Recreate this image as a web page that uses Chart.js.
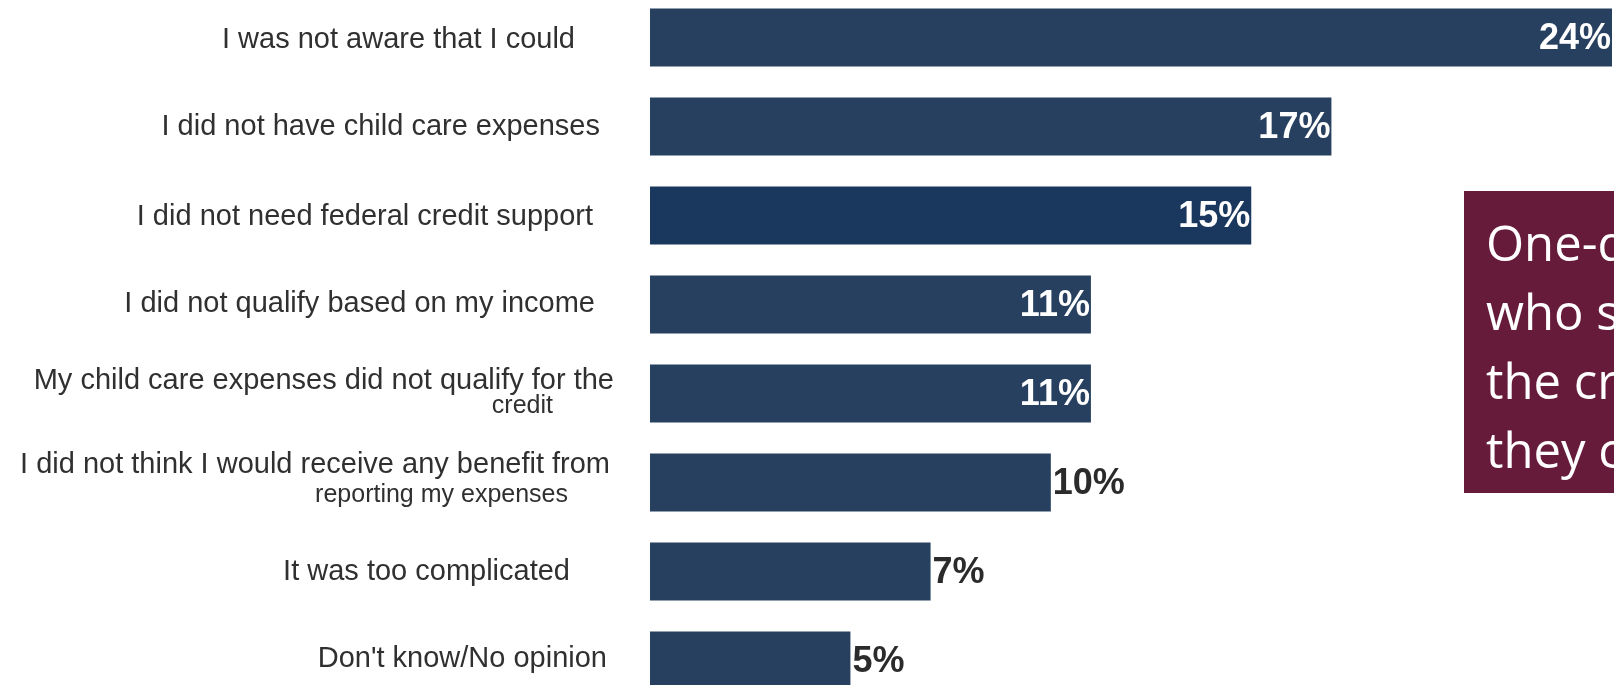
<!DOCTYPE html>
<html>
<head>
<meta charset="utf-8">
<script src="https://cdn.jsdelivr.net/npm/chart.js@4"></script>
<style>
  html, body { margin: 0; padding: 0; background: #fff; overflow: hidden; }
  #wrap { position: absolute; left: 0; top: -7px; width: 1614px; height: 712px; }
  #note {
    position: absolute; left: 1464px; top: 191px; width: 150px; height: 302px;
    background: #661b3a; color: #fff; overflow: hidden; white-space: nowrap;
    font-family: "Open Sans", sans-serif; font-size: 49px; line-height: 69px;
    padding: 17px 0 0 22px; box-sizing: border-box;
  }
</style>
</head>
<body>
<div id="wrap"><canvas id="grafico" width="1614" height="712"></canvas></div>
<div id="note">One-quarter of parents<br>who skipped claiming<br>the credit were not aware<br>they could claim it.</div>
<script>
// Dados ======================================================================

const labels = [
  "I was not aware that I could",
  "I did not have child care expenses",
  "I did not need federal credit support",
  "I did not qualify based on my income",
  ["My child care expenses did not qualify for the", "credit"],
  ["I did not think I would receive any benefit from", "reporting my expenses"],
  "It was too complicated",
  "Don't know/No opinion",
];
const values = [24, 17, 15, 11, 11, 10, 7, 5];

// Estilo / posicao dos rotulos ================================================

const barColors = ["#27405f", "#27405f", "#1a375e", "#27405f", "#27405f", "#27405f", "#27405f", "#27405f"];
// right edge of each text line, and its shift from the bar centre
const lineRight = [[575], [600], [593], [595], [614, 553], [610, 568], [570], [607]];
const lineShift = [[2], [0], [1], [-1], [-13, 13], [-18, 13], [0], [-2]];

const categoryLabels = {
  id: "categoryLabels",
  afterDraw(chart) {
    const ctx = chart.ctx;
    const y = chart.scales.y;
    ctx.save();
    ctx.fillStyle = "#303030";
    ctx.textAlign = "right";
    ctx.textBaseline = "middle";
    labels.forEach((lab, i) => {
      const lines = Array.isArray(lab) ? lab : [lab];
      const cy = y.getPixelForValue(i);
      lines.forEach((t, j) => {
        ctx.font = (j === 0 ? "29px" : "25px") + " 'Liberation Sans', Arial, sans-serif";
        ctx.fillText(t, lineRight[i][j], cy + lineShift[i][j]);
      });
    });
    ctx.restore();
  },
};

const valueLabels = {
  id: "valueLabels",
  afterDatasetsDraw(chart) {
    const ctx = chart.ctx;
    const meta = chart.getDatasetMeta(0);
    ctx.save();
    ctx.font = "bold 36px 'Liberation Sans', Arial, sans-serif";
    ctx.textBaseline = "middle";
    meta.data.forEach((bar, i) => {
      const v = values[i];
      if (v > 10) {
        ctx.fillStyle = "#ffffff";
        ctx.textAlign = "right";
        ctx.fillText(v + "%", bar.x - 1, bar.y + 2);
      } else {
        ctx.fillStyle = "#2b2b2b";
        ctx.textAlign = "left";
        ctx.fillText(v + "%", bar.x + 2, bar.y + 2);
      }
    });
    ctx.restore();
  },
};

const config = {
  type: "bar",
  data: {
    labels: labels,
    datasets: [
      {
        data: values,
        backgroundColor: barColors,
        borderWidth: 0,
        barPercentage: 0.65,
        categoryPercentage: 1,
      },
    ],
  },
  options: {
    indexAxis: "y",
    responsive: false,
    animation: false,
    devicePixelRatio: 1,
    layout: { padding: { left: 650, right: 0, top: 0, bottom: 0 } },
    plugins: { legend: { display: false }, tooltip: { enabled: false } },
    scales: {
      x: { display: false, min: 0, max: 24.05 },
      y: { display: false },
    },
  },
  plugins: [categoryLabels, valueLabels],
};

const grafico = new Chart(document.getElementById("grafico"), config);
</script>
</body>
</html>
